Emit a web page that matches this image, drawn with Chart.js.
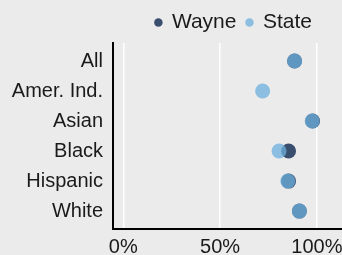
<!DOCTYPE html>
<html>
<head>
<meta charset="utf-8">
<script src="https://cdn.jsdelivr.net/npm/chart.js@4"></script>
<style>
  html, body { margin: 0; padding: 0; background: #ebebeb; }
  #wrap { width: 342px; height: 255px; }
</style>
</head>
<body>
<div id="wrap"><canvas id="myChart"></canvas></div>
<script>
// rows, top to bottom
const groups = ['All', 'Amer. Ind.', 'Asian', 'Black', 'Hispanic', 'White'];
// percent of students (Wayne has no Amer. Ind. dot)
const wayneValues = [88.5, null, 97.8, 85.4, 85.4, 91];
const stateValues = [88.5, 72, 97.6, 80.5, 85, 91];
const xTicks = [0, 50, 100];

const fontFamily = '"Liberation Sans", Arial, sans-serif';

// turn a value list into scatter points, one per row
function toPoints(values) {
    const pts = [];
    values.forEach((v, i) => {
        if (v !== null) pts.push({ x: v, y: i });
    });
    return pts;
}

// the legend sits a bit in from the right edge
const legendShift = {
    id: 'legendShift',
    afterLayout(chart) {
        chart.legend.left -= 20;
        chart.legend.right -= 20;
    }
};

const ctx = document.getElementById('myChart');
new Chart(ctx, {
    type: 'scatter',
    data: {
        datasets: [{
            label: 'Wayne',
            data: toPoints(wayneValues),
            backgroundColor: 'rgb(58, 79, 110)',
            borderWidth: 0,
            pointRadius: 7.5,
            pointHoverRadius: 7.5,
            order: 1
        }, {
            label: 'State',
            data: toPoints(stateValues),
            backgroundColor: 'rgba(108, 175, 222, 0.75)',
            borderWidth: 0,
            pointRadius: 7.5,
            pointHoverRadius: 7.5,
            order: 0
        }]
    },
    options: {
        responsive: true,
        maintainAspectRatio: false,
        animation: false,
        layout: { padding: { top: 2 }, autoPadding: false },
        plugins: {
            legend: {
                position: 'top',
                align: 'end',
                labels: {
                    usePointStyle: true,
                    pointStyle: 'circle',
                    boxWidth: 6,
                    boxHeight: 6,
                    padding: 10,
                    color: '#1a1a1a',
                    font: { family: fontFamily, size: 21 },
                    sort: (a, b) => a.datasetIndex - b.datasetIndex
                }
            },
            tooltip: { enabled: false }
        },
        scales: {
            x: {
                type: 'linear',
                min: -5.3,
                max: 113,
                grid: { color: '#ffffff', lineWidth: 1.5, drawTicks: false },
                border: { color: '#000000', width: 2 },
                ticks: {
                    padding: 7,
                    color: '#1a1a1a',
                    font: { family: fontFamily, size: 20 },
                    callback: v => v + '%'
                },
                afterBuildTicks: scale => {
                    scale.ticks = xTicks.map(v => ({ value: v }));
                },
                afterFit: scale => {
                    scale.height = 26.5;
                    scale.paddingRight = 0;
                    scale.paddingLeft = 0;
                }
            },
            y: {
                type: 'linear',
                reverse: true,
                min: -0.6,
                max: 5.58,
                grid: { display: false, drawTicks: false },
                border: { color: '#000000', width: 2 },
                ticks: {
                    padding: 10,
                    color: '#1a1a1a',
                    font: { family: fontFamily, size: 20 },
                    callback: v => groups[v]
                },
                afterBuildTicks: scale => {
                    scale.ticks = groups.map((g, i) => ({ value: i }));
                },
                afterFit: scale => {
                    scale.width = 113;
                    scale.paddingTop = 0;
                    scale.paddingBottom = 0;
                }
            }
        }
    },
    plugins: [legendShift]
});
</script>
</body>
</html>
